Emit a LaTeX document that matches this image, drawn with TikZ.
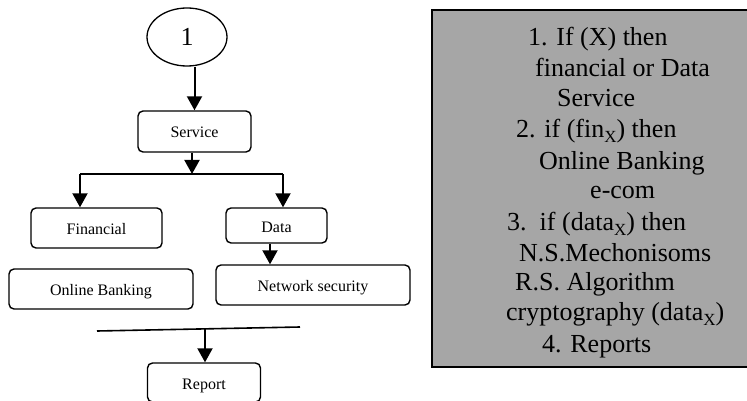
\documentclass[tikz,border=0pt]{standalone}
\usepackage{fontspec}
\setmainfont{Liberation Serif}
\usetikzlibrary{arrows.meta,shapes.geometric}
\definecolor{boxgray}{RGB}{166,166,166}
\newcommand{\subX}{\raisebox{-5pt}{\fontsize{17}{17}\selectfont X}}
\tikzset{
  x=1pt, y=-1pt,
  flowbox/.style={draw, line width=1.4pt, rounded corners=5pt, inner sep=0pt,
    text height=13pt, text depth=0pt, font=\fontsize{16}{18}\selectfont},
  arr/.style={line width=2pt, -{Triangle[length=14pt,width=15pt]}},
  plain/.style={line width=2pt},
  rtext/.style={anchor=base west, inner sep=0pt, font=\fontsize{26}{30.6}\selectfont},
}
\begin{document}
\begin{tikzpicture}
\clip (0,0) rectangle (747,401);
\fill[white] (0,0) rectangle (747,401);

% gray box
\draw[line width=1.6pt, fill=boxgray] (432,10) rectangle (752,367);
\node[rtext] (l1) at (528,46) {1. If (X) then};
\node[rtext] (l2) at (535,77) {financial or Data};
\node[rtext] (l3) at (557,107) {Service};
\node[rtext] (l4) at (516,138) {2. if (fin\subX) then};
\node[rtext] (l5) at (539,169) {Online Banking};
\node[rtext] (l6) at (590,198) {e-com};
\node[rtext] (l7) at (507,230) {3.\ \ if (data\subX) then};
\node[rtext] (l8) at (519,261) {N.S.Mechonisoms};
\node[rtext] (l9) at (515,290) {R.S. Algorithm};
\node[rtext] (l10) at (506,320) {cryptography (data\subX)};
\node[rtext] (l11) at (542,352) {4. Reports};

% flow chart
\node[draw, ellipse, line width=1.3pt, minimum width=80pt, minimum height=58pt, inner sep=0pt,
  font=\fontsize{26}{28}\selectfont] (e) at (187,37) {1};
\node[flowbox, minimum width=113pt, minimum height=41pt] (svc) at (194.5,131.5) {Service};
\node[flowbox, minimum width=131pt, minimum height=40pt] (fin) at (96.5,228) {Financial};
\node[flowbox, minimum width=184pt, minimum height=40pt] (onl) at (101,289) {Online Banking};
\node[flowbox, minimum width=101pt, minimum height=35pt] (dat) at (276.5,225.5) {Data};
\node[flowbox, minimum width=194pt, minimum height=40pt] (net) at (313,285) {Network security};
\node[flowbox, minimum width=113pt, minimum height=39pt] (rep) at (204,382.5) {Report};

\coordinate (j) at (192,174);
\coordinate (jl) at (80,174);
\coordinate (jr) at (283,174);
\coordinate (ll) at (97,331);
\coordinate (lr) at (300,327);
\coordinate (lm) at (205,329);

\draw[arr] (svc.north |- e.south) -- (svc.north);
\draw[arr] (j |- svc.south) -- (j);
\draw[plain] (jl) -- (jr);
\draw[arr] (jl) -- (jl |- fin.north);
\draw[arr] (jr) -- (jr |- dat.north);
\draw[arr] ([xshift=-6.5pt]dat.south) -- ([xshift=-6.5pt]dat.south |- net.north);
\draw[line width=1.6pt] (ll) -- (lr);
\draw[arr] (lm) -- (lm |- rep.north);
\end{tikzpicture}
\end{document}
